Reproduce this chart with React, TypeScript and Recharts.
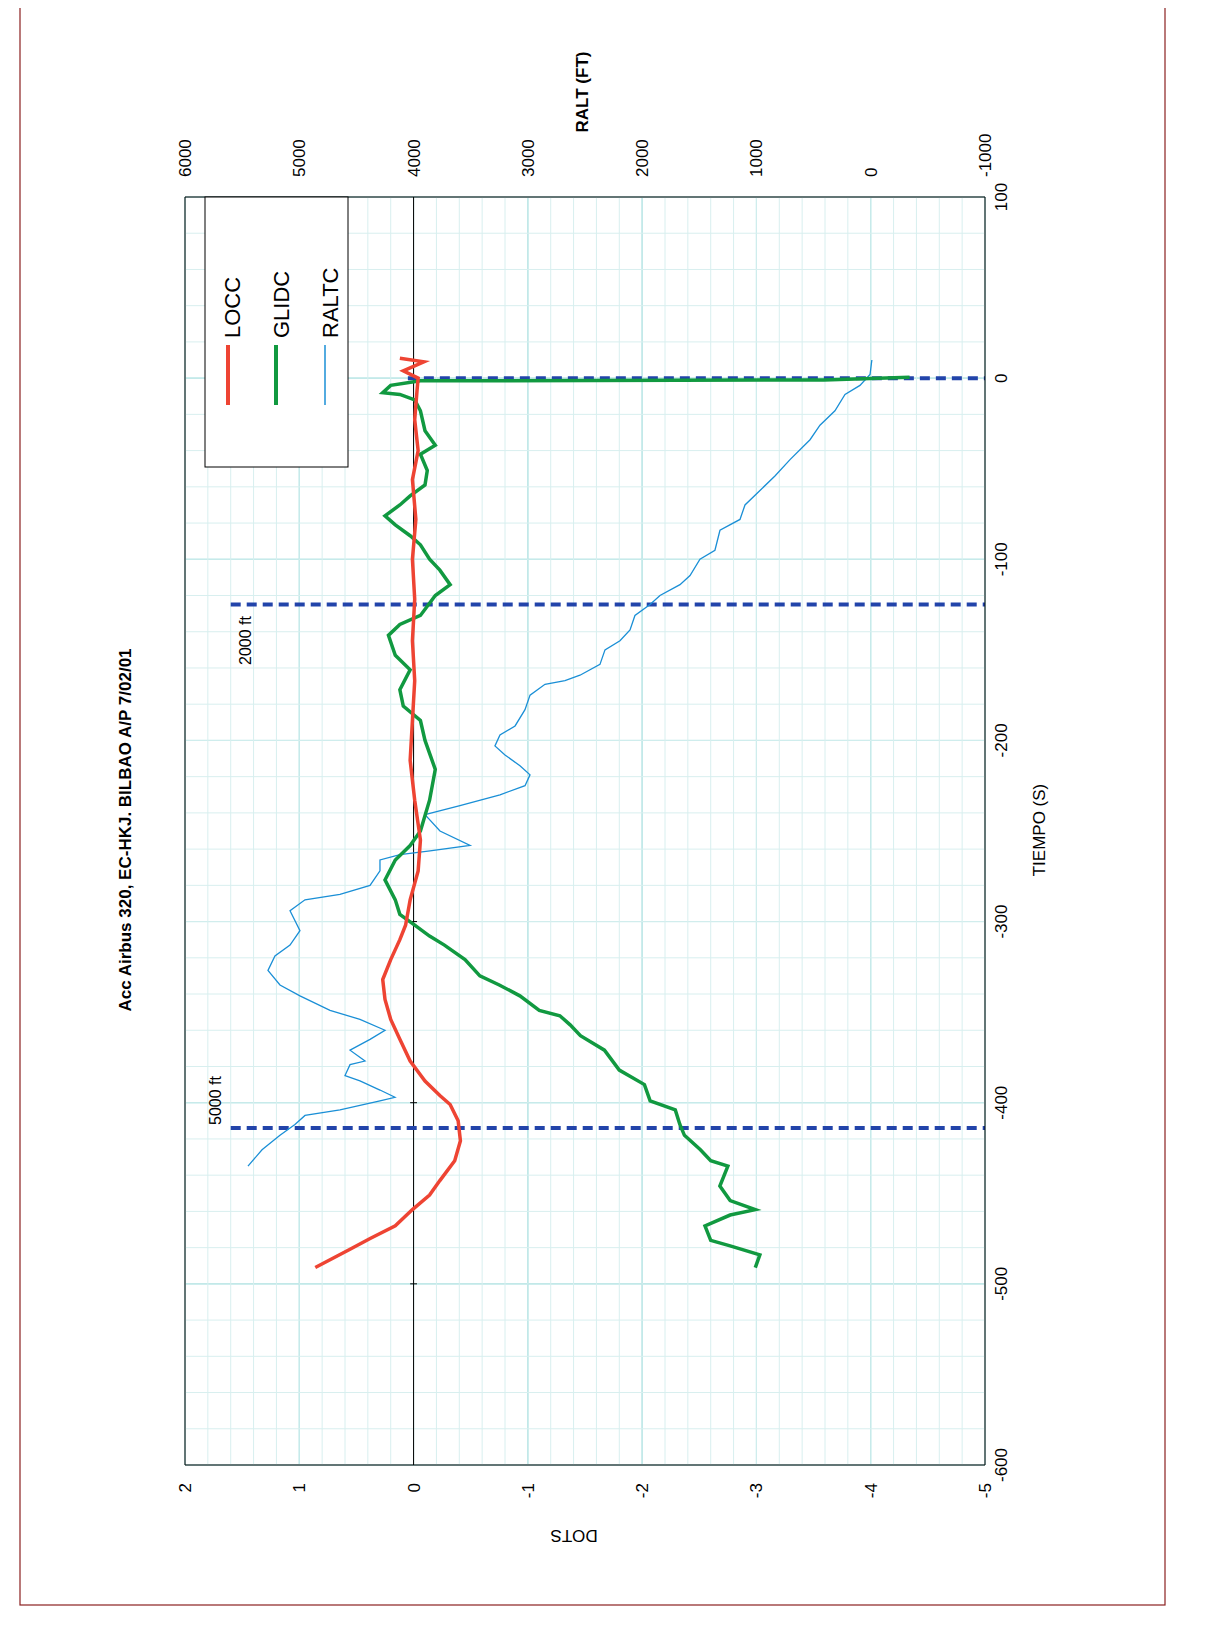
import React from 'react';
import { LineChart, Line, XAxis, YAxis, CartesianGrid, ReferenceLine } from 'recharts';

// LOCC (dots) vs time (s)
const loccT = [-491, -481, -475, -468, -459, -451, -443, -432, -421, -410, -401, -396, -388, -377, -365, -354, -343, -332, -321, -310, -302, -288, -272, -255, -233, -211, -189, -167, -145, -122, -100, -78, -56, -40, -23, -7, 0, 4, 9, 11];
const loccV = [0.86, 0.56, 0.38, 0.16, 0.01, -0.14, -0.23, -0.36, -0.41, -0.39, -0.32, -0.23, -0.1, 0.03, 0.12, 0.2, 0.25, 0.27, 0.2, 0.12, 0.07, 0.03, -0.04, -0.06, -0.01, 0.03, 0.01, -0.01, 0.01, -0.01, 0.01, -0.02, 0.01, -0.04, -0.01, -0.03, -0.04, 0.09, -0.09, 0.12];

// GLIDC (dots)
const glidT = [-491, -484, -479, -476, -468, -462, -459, -454, -446, -435, -432, -426, -418, -412, -404, -399, -390, -382, -371, -363, -357, -352, -349, -341, -335, -330, -321, -313, -308, -302, -296, -288, -277, -266, -258, -250, -233, -216, -200, -189, -181, -172, -161, -153, -142, -136, -131, -120, -114, -106, -100, -92, -87, -81, -76, -70, -65, -59, -51, -42, -37, -29, -18, -12, -9, -8, -4, -1.5, -1, 0.5];
const glidV = [-2.99, -3.03, -2.77, -2.6, -2.55, -2.77, -2.99, -2.77, -2.68, -2.75, -2.6, -2.51, -2.37, -2.33, -2.29, -2.07, -2.02, -1.8, -1.67, -1.46, -1.37, -1.28, -1.1, -0.93, -0.75, -0.58, -0.45, -0.27, -0.14, -0.01, 0.12, 0.16, 0.25, 0.16, 0.03, -0.06, -0.14, -0.19, -0.1, -0.06, 0.09, 0.12, 0.03, 0.16, 0.22, 0.12, -0.06, -0.19, -0.32, -0.23, -0.14, -0.06, 0.03, 0.16, 0.25, 0.12, 0.03, -0.1, -0.12, -0.06, -0.19, -0.1, -0.06, -0.01, 0.12, 0.27, 0.2, -0.06, -3.59, -4.34];

// RALTC (ft)
const raltT = [-435, -426, -418, -412, -407, -404, -399, -397, -393, -388, -385, -379, -377, -371, -365, -360, -354, -349, -341, -335, -327, -319, -313, -305, -294, -288, -285, -280, -272, -266, -263, -261, -258, -250, -241, -236, -230, -225, -219, -214, -208, -203, -197, -192, -183, -175, -169, -167, -164, -158, -150, -145, -139, -131, -125, -120, -114, -109, -100, -95, -84, -78, -70, -62, -54, -45, -34, -26, -18, -9, -4, 2, 10];
const raltV = [5449, 5326, 5169, 5038, 4950, 4644, 4294, 4163, 4294, 4469, 4600, 4556, 4425, 4556, 4381, 4250, 4469, 4731, 4994, 5169, 5274, 5213, 5081, 4994, 5081, 4950, 4644, 4381, 4294, 4294, 4119, 3856, 3506, 3769, 3900, 3594, 3244, 3025, 2981, 3069, 3200, 3288, 3244, 3112, 3025, 2981, 2850, 2675, 2544, 2369, 2325, 2194, 2106, 2063, 1931, 1844, 1669, 1581, 1494, 1363, 1319, 1144, 1100, 969, 838, 706, 531, 444, 313, 225, 94, 6, -10];

const dotsTicks = [2, 1, 0, -1, -2, -3, -4, -5];
const raltTicks = [6000, 5000, 4000, 3000, 2000, 1000, 0, -1000];
const timeTicks = [100, 0, -100, -200, -300, -400, -500, -600];
const minorDots = Array.from({ length: 36 }, (_, i) => Math.round((2 - i * 0.2) * 10) / 10);
const minorTime = Array.from({ length: 36 }, (_, i) => 100 - i * 20);

const locc = loccT.map((t, i) => ({ t, v: loccV[i] }));
const glid = glidT.map((t, i) => ({ t, v: glidV[i] }));
const ralt = raltT.map((t, i) => ({ t, r: raltV[i] }));

const FONT = '"Liberation Sans", Arial, sans-serif';
const W = 1199;
const H = 1620;

const BottomTick = (p: any) => (
  <text transform={`rotate(-90 ${p.x + 6} ${p.y + 10})`} textAnchor="end" fontSize={17} fontFamily={FONT} fill="#000">
    <tspan x={p.x + 6} y={p.y + 10}>{p.payload.value}</tspan>
  </text>
);
const TopTick = (p: any) => (
  <text transform={`rotate(-90 ${p.x + 6} ${p.y - 12})`} textAnchor="start" fontSize={17} fontFamily={FONT} fill="#000">
    <tspan x={p.x + 6} y={p.y - 12}>{p.payload.value}</tspan>
  </text>
);
const RightTick = (p: any) => (
  <text transform={`rotate(-90 ${p.x + 14} ${p.y})`} textAnchor="middle" fontSize={17} fontFamily={FONT} fill="#000">
    <tspan x={p.x + 14} y={p.y}>{p.payload.value}</tspan>
  </text>
);

const rot = (x: number, y: number, s: string, o: any = {}) => (
  <text transform={`rotate(${o.angle ?? -90} ${x} ${y})`} x={x} y={y} textAnchor={o.anchor ?? 'middle'} fontSize={o.size ?? 17} fontWeight={o.bold ? 'bold' : 'normal'} fontFamily={FONT} fill="#000">
    {s}
  </text>
);

export default function App() {
  return (
    <div style={{ position: 'relative', width: W, height: H }}>
      <LineChart width={W} height={H} layout="vertical" margin={{ left: 177, top: 129, right: 162, bottom: 103 }}>
        {minorDots.map((d) => (
          <ReferenceLine key={'md' + d} x={d} xAxisId="dots" stroke="#D8EFEF" strokeWidth={1} />
        ))}
        {minorTime.map((t) => (
          <ReferenceLine key={'mt' + t} y={t} xAxisId="dots" stroke="#D8EFEF" strokeWidth={1} />
        ))}
        <CartesianGrid xAxisId="dots" stroke="#66CCCC" strokeWidth={1} />
        <XAxis xAxisId="dots" type="number" domain={[-5, 2]} reversed ticks={dotsTicks} orientation="bottom" height={60} tick={<BottomTick />} tickLine={false} axisLine={{ stroke: '#000' }} allowDataOverflow />
        <XAxis xAxisId="ralt" type="number" dataKey="r" domain={[-1000, 6000]} reversed ticks={raltTicks} orientation="top" height={60} tick={<TopTick />} tickLine={false} axisLine={{ stroke: '#000' }} allowDataOverflow />
        <YAxis type="number" dataKey="t" domain={[-600, 100]} reversed ticks={timeTicks} orientation="right" width={60} tick={<RightTick />} tickLine={false} axisLine={{ stroke: '#000' }} allowDataOverflow />
        <ReferenceLine x={2} xAxisId="dots" stroke="#000" />
        <ReferenceLine x={0} xAxisId="dots" stroke="#000" />
        {[-300, -400, -500].map((t) => (
          <ReferenceLine key={'tk' + t} xAxisId="dots" segment={[{ x: 0.03, y: t }, { x: -0.03, y: t }]} stroke="#000" />
        ))}
        <ReferenceLine xAxisId="dots" segment={[{ x: 0.05, y: 0 }, { x: -5, y: 0 }]} stroke="#2244AA" strokeWidth={4} strokeDasharray="10 6" />
        <ReferenceLine xAxisId="dots" segment={[{ x: 1.6, y: -125 }, { x: -5, y: -125 }]} stroke="#2244AA" strokeWidth={4} strokeDasharray="10 6" />
        <ReferenceLine xAxisId="dots" segment={[{ x: 1.6, y: -414 }, { x: -5, y: -414 }]} stroke="#2244AA" strokeWidth={4} strokeDasharray="10 6" />
        <Line xAxisId="ralt" data={ralt} dataKey="r" stroke="#1A8FD6" strokeWidth={1.3} dot={false} isAnimationActive={false} type="linear" />
        <Line xAxisId="dots" data={glid} dataKey="v" stroke="#119940" strokeWidth={3.5} dot={false} isAnimationActive={false} type="linear" />
        <Line xAxisId="dots" data={locc} dataKey="v" stroke="#EE4433" strokeWidth={3.5} dot={false} isAnimationActive={false} type="linear" />
      </LineChart>
      <svg width={W} height={H} style={{ position: 'absolute', left: 0, top: 0, pointerEvents: 'none' }}>
        <rect x={12} y={-3} width={1145} height={1600} fill="none" stroke="#8B2020" strokeWidth={1.2} />
        {rot(123, 822, 'Acc Airbus 320, EC-HKJ.  BILBAO A/P 7/02/01', { bold: true })}
        {rot(1037, 822, 'TIEMPO (S)')}
        {rot(580, 84, 'RALT (FT)', { bold: true })}
        {rot(566, 1522, 'DOTS', { angle: 180 })}
        {rot(243, 657, '2000 ft', { anchor: 'start', size: 16 })}
        {rot(213, 1117, '5000 ft', { anchor: 'start', size: 16 })}
        <rect x={197} y={189} width={143} height={270} fill="#fff" stroke="#000" strokeWidth={1} />
        <line x1={220} y1={337} x2={220} y2={397} stroke="#EE4433" strokeWidth={4} />
        {rot(232, 330, 'LOCC', { anchor: 'start', size: 22 })}
        <line x1={268} y1={337} x2={268} y2={397} stroke="#119940" strokeWidth={4} />
        {rot(281, 330, 'GLIDC', { anchor: 'start', size: 22 })}
        <line x1={317} y1={337} x2={317} y2={397} stroke="#1A8FD6" strokeWidth={1.5} />
        {rot(330, 330, 'RALTC', { anchor: 'start', size: 22 })}
      </svg>
    </div>
  );
}
